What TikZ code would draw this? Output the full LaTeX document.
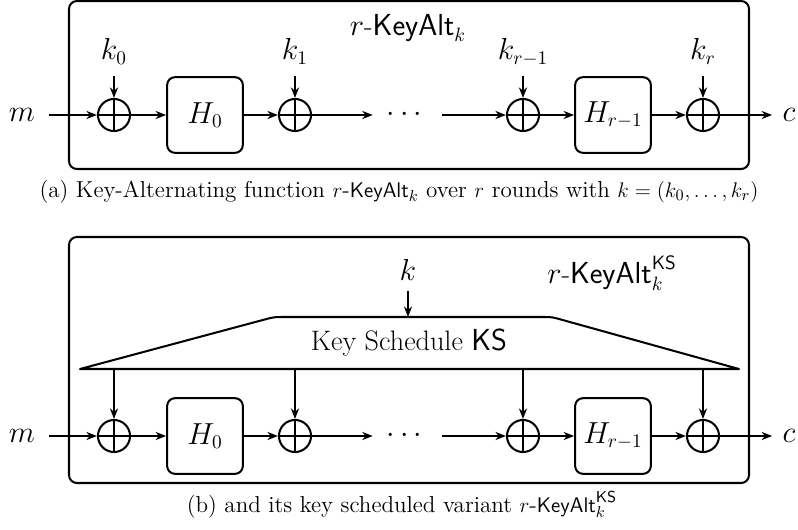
\documentclass[tikz,border=0pt]{standalone}
\usepackage{amsmath,amssymb}
\usepackage{tikz}
\usetikzlibrary{positioning,arrows.meta}

\tikzset{
  xorop/.style={circle, draw, minimum size=18.2pt, inner sep=0pt,
    path picture={\draw (path picture bounding box.north) -- (path picture bounding box.south)
      (path picture bounding box.west) -- (path picture bounding box.east);}},
  rnd/.style={draw, rounded corners=4.5pt, minimum size=43pt, inner sep=2pt},
  keylbl/.style={inner sep=2pt, text depth=6.5pt},
  frame/.style={rounded corners=4.5pt},
  caption/.style={font=\fontsize{13.1}{16}\selectfont, anchor=base}
}

\begin{document}
\begin{tikzpicture}[x=0.568pt, y=-0.568pt, line width=1.15pt,
    >={Stealth[length=6pt,width=4.6pt]}, font=\fontsize{16}{19}\selectfont]
  \useasboundingbox (0,0) rectangle (798,529);

  % (a) Key-Alternating function
  \draw[frame] (69,1) rectangle (749,169);
  \node[anchor=base] (titleA) at (408,35) {$r$-$\mathsf{KeyAlt}_k$};
  \node (mA) at (22,115) {$m$};
  \node[xorop] (xA0) at (114,115) {};
  \node[rnd] (hA0) at (205,115) {$H_0$};
  \node[xorop] (xA1) at (295,115) {};
  \node (dA) at (407,115) {$\cdots$};
  \node[xorop] (xA2) at (523,115) {};
  \node[rnd] (hA1) at (613,115) {$H_{r-1}$};
  \node[xorop] (xA3) at (703,115) {};
  \node (cA) at (789,115) {$c$};

  \draw[->, shorten <=4pt] (mA) -- (xA0);
  \draw[->] (xA0) -- (hA0);
  \draw[->] (hA0) -- (xA1);
  \draw[->, shorten >=4pt] (xA1) -- (dA);
  \draw[->, shorten <=4.5pt] (dA) -- (xA2);
  \draw[->] (xA2) -- (hA1);
  \draw[->] (hA1) -- (xA3);
  \draw[->, shorten >=2pt] (xA3) -- (cA);

  % round keys
  \foreach \i/\t in {0/k_0, 1/k_1, 2/k_{r-1}, 3/k_r} {
    \node[keylbl, above=12.5pt of xA\i] (kA\i) {$\t$};
    \draw[->] (kA\i) -- (xA\i);
  }

  \node[caption] (capA) at (399,197)
    {(a) Key-Alternating function $r$-$\mathsf{KeyAlt}_k$ over $r$ rounds with $k=(k_0,\ldots,k_r)$};

  % (b) with key schedule
  \draw[frame] (69,237) rectangle (749,483);
  \node[anchor=base] (titleB) at (612,283) {$r$-$\mathsf{KeyAlt}_k^{\mathsf{KS}}$};
  \node (mB) at (22,436) {$m$};
  \node[xorop] (xB0) at (114,436) {};
  \node[rnd] (hB0) at (205,436) {$H_0$};
  \node[xorop] (xB1) at (295,436) {};
  \node (dB) at (407,436) {$\cdots$};
  \node[xorop] (xB2) at (523,436) {};
  \node[rnd] (hB1) at (613,436) {$H_{r-1}$};
  \node[xorop] (xB3) at (703,436) {};
  \node (cB) at (789,436) {$c$};

  \draw[->, shorten <=4pt] (mB) -- (xB0);
  \draw[->] (xB0) -- (hB0);
  \draw[->] (hB0) -- (xB1);
  \draw[->, shorten >=4pt] (xB1) -- (dB);
  \draw[->, shorten <=4.5pt] (dB) -- (xB2);
  \draw[->] (xB2) -- (hB1);
  \draw[->] (hB1) -- (xB3);
  \draw[->, shorten >=2pt] (xB3) -- (cB);

  % key schedule block
  \draw[line join=round] (80,369) -- (264.3,319.6) .. controls (274,317) .. (284,317)
    -- (542,317) .. controls (552,317) .. (561.6,319.7) -- (739,369) -- cycle;
  \node (ks) at (409,343) {Key Schedule $\mathsf{KS}$};
  \coordinate (kstop) at (409,317);
  \coordinate (ksbot) at (409,369);
  \node[anchor=base, inner sep=2pt, text depth=3.7pt] (kB) at (408,280) {$k$};
  \draw[->] (kB) -- (kB |- kstop);
  \foreach \i in {0,...,3}
    \draw[->] (ksbot -| xB\i) -- (xB\i);

  \node[caption] (capB) at (402,512)
    {(b) and its key scheduled variant $r$-$\mathsf{KeyAlt}_k^{\mathsf{KS}}$};
\end{tikzpicture}
\end{document}
